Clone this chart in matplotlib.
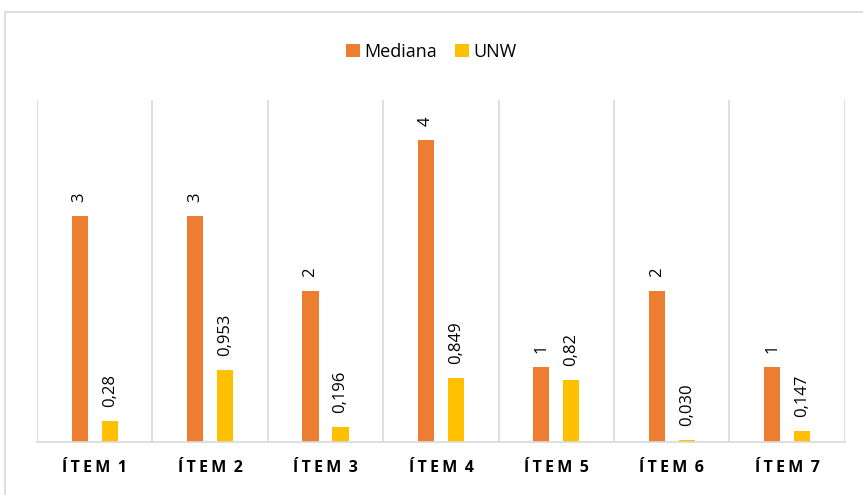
import matplotlib.pyplot as plt
import numpy as np
from matplotlib.patches import Rectangle

categories = ['ÍTEM 1', 'ÍTEM 2', 'ÍTEM 3', 'ÍTEM 4', 'ÍTEM 5', 'ÍTEM 6', 'ÍTEM 7']
mediana = [3, 3, 2, 4, 1, 2, 1]
unw = [0.28, 0.953, 0.196, 0.849, 0.82, 0.030, 0.147]
unw_labels = ['0,28', '0,953', '0,196', '0,849', '0,82', '0,030', '0,147']

plt.rcParams['font.family'] = ['Open Sans', 'DejaVu Sans']

fig = plt.figure(figsize=(8.63, 4.95), dpi=100)
ax = fig.add_axes([0.0429, 0.107, 0.9361, 0.691])

# chart frame
fig.patches.append(Rectangle((0.006, -0.01), 1.0, 0.986, transform=fig.transFigure,
                             fill=False, edgecolor='#d9d9d9', linewidth=1.2))

x = np.arange(len(categories))
width = 0.14
off = 0.13
b1 = ax.bar(x - off, mediana, width, color='#ED7D31', label='Mediana')
b2 = ax.bar(x + off, unw, width, color='#FFC000', label='UNW')

for rect, v in zip(b1, mediana):
    ax.annotate(str(v), (rect.get_x() + rect.get_width() / 2, rect.get_height()),
                xytext=(0, 10), textcoords='offset points', rotation=90,
                ha='center', va='bottom', fontsize=12, color='#000000')
for rect, s in zip(b2, unw_labels):
    ax.annotate(s, (rect.get_x() + rect.get_width() / 2, rect.get_height()),
                xytext=(0, 10), textcoords='offset points', rotation=90,
                ha='center', va='bottom', fontsize=12, color='#000000')


def spaced(s):
    # letter-spaced category labels
    word, num = s.split(' ')
    return '\u2009'.join(word) + '\u2009 ' + num


ax.set_xlim(-0.5, len(categories) - 0.5)
ax.set_ylim(0, 4.53)
ax.set_yticks([])
ax.set_xticks(x)
ax.set_xticklabels([spaced(c) for c in categories], fontsize=11.5, fontweight='bold')
ax.tick_params(axis='x', length=0, pad=13)
ax.set_xticks(np.arange(len(categories) + 1) - 0.5, minor=True)
ax.tick_params(axis='x', which='minor', length=0)
ax.grid(axis='x', which='minor', color='#d9d9d9', linewidth=1.2)
ax.set_axisbelow(True)
for s in ['top', 'left', 'right']:
    ax.spines[s].set_visible(False)
ax.spines['bottom'].set_color('#d9d9d9')
ax.spines['bottom'].set_linewidth(1.2)

fig.legend(loc='center', bbox_to_anchor=(0.5, 0.895), ncol=2, frameon=False,
           fontsize=13, handlelength=0.75, handleheight=0.75, handletextpad=0.25,
           columnspacing=1.0)

fig.savefig('out.png', dpi=100)
